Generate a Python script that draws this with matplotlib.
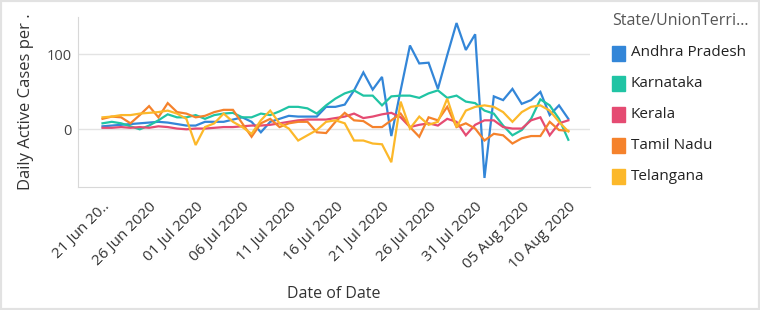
import matplotlib.pyplot as plt
import numpy as np
import pandas as pd
from matplotlib.patches import Rectangle

plt.rcParams['font.family'] = ['Open Sans', 'DejaVu Sans']

dates = pd.date_range('2020-06-21', '2020-08-10', freq='D')

andhra = [4, 5, 6, 7, 8, 9, 10, 9, 7, 5, 5, 10, 10, 10, 13, 16, 10, -4, 10, 14,
          18, 17, 17, 17, 30, 30, 33, 52, 76, 53, 70, -9, 52, 112, 88, 89, 54, 99, 142, 106,
          127, -65, 44, 39, 54, 34, 39, 50, 19, 32, 14]
karnataka = [8, 10, 8, 4, 0, 5, 12, 20, 16, 16, 19, 14, 19, 21, 22, 16, 16, 21, 19, 24,
             30, 30, 28, 21, 32, 41, 48, 52, 45, 45, 32, 44, 45, 45, 42, 48, 52, 42, 45, 37,
             35, 25, 21, 5, -8, -1, 14, 40, 32, 14, -14]
kerala = [2, 2, 3, 2, 3, 2, 4, 3, 1, 0, 1, 1, 2, 3, 3, 4, 5, 5, 6, 8,
          10, 12, 13, 13, 13, 15, 17, 21, 15, 17, 20, 22, 16, 3, 6, 8, 5, 14, 10, -8,
          6, 12, 12, 3, 1, 1, 12, 16, -8, 8, 12]
tamil_nadu = [14, 17, 16, 8, 19, 31, 16, 35, 23, 21, 16, 18, 23, 26, 26, 8, -10, 8, 14, 3,
              8, 10, 10, -4, -5, 10, 22, 12, 11, 3, 3, 12, 21, 3, -10, 16, 12, 30, 3, 8,
              1, -15, -6, -8, -19, -12, -9, -9, 10, -1, -2]
telangana = [16, 17, 19, 19, 21, 22, 23, 25, 21, 14, -21, 3, 8, 21, 10, 3, -6, 12, 25, 8,
             1, -15, -8, -1, 10, 12, 8, -15, -15, -19, -20, -44, 37, 1, 17, 6, 10, 41, 3, 25,
             30, 32, 30, 23, 10, 23, 30, 32, 25, 10, -3]

states = ['Andhra Pradesh', 'Karnataka', 'Kerala', 'Tamil Nadu', 'Telangana']
series = [andhra, karnataka, kerala, tamil_nadu, telangana]
colors = ['#3386d8', '#20c4a4', '#e54b72', '#f5822c', '#fcb82a']

tick_dates = dates[::5]
tick_labels = [d.strftime('%d %b %Y') for d in tick_dates]
tick_labels[0] = '21 Jun 20..'

fig = plt.figure(figsize=(7.6, 3.1), dpi=100)
ax = fig.add_axes([0.103, 0.397, 0.673, 0.548])

x = np.arange(len(dates))
for vals, c in zip(series, colors):
    ax.plot(x, vals, color=c, linewidth=1.6, solid_joinstyle='miter')

ax.set_xlim(-2.6, 52.3)
ax.set_ylim(-77, 150)
ax.set_yticks([0, 100])
ax.set_yticklabels(['0', '100'], fontsize=10.5, color='#444444')
ax.set_xticks(x[::5])
ax.set_xticklabels(tick_labels, rotation=45, ha='right', rotation_mode='anchor',
                   fontsize=11, color='#333333')
ax.tick_params(length=0, pad=5)
ax.tick_params(axis='x', pad=9)
ax.grid(axis='y', color='#e3e3e3', linewidth=1)
ax.set_axisbelow(True)
for s in ['top', 'right']:
    ax.spines[s].set_visible(False)
for s in ['left', 'bottom']:
    ax.spines[s].set_color('#d8d8d8')

ax.set_ylabel('Daily Active Cases per .', fontsize=12, color='#333333', labelpad=9)
ax.set_xlabel('Date of Date', fontsize=11.5, color='#333333', labelpad=10)

# legend drawn by hand on the right
fig.text(612 / 760, 1 - 21 / 310, 'State/UnionTerri...', fontsize=11.5, color='#555555',
         va='center', ha='left')
for i, (name, c) in enumerate(zip(states, colors)):
    yc = 53 + i * 30.8
    fig.add_artist(Rectangle((612 / 760, 1 - (yc + 7.5) / 310), 13 / 760, 15 / 310,
                             transform=fig.transFigure, color=c))
    fig.text(631 / 760, 1 - yc / 310, name, fontsize=11, color='#222222',
             va='center', ha='left')

fig.add_artist(Rectangle((0, 0), 1, 1, transform=fig.transFigure, fill=False,
                         edgecolor='#e2e2e2', linewidth=3))

fig.savefig('out.png', dpi=100)
